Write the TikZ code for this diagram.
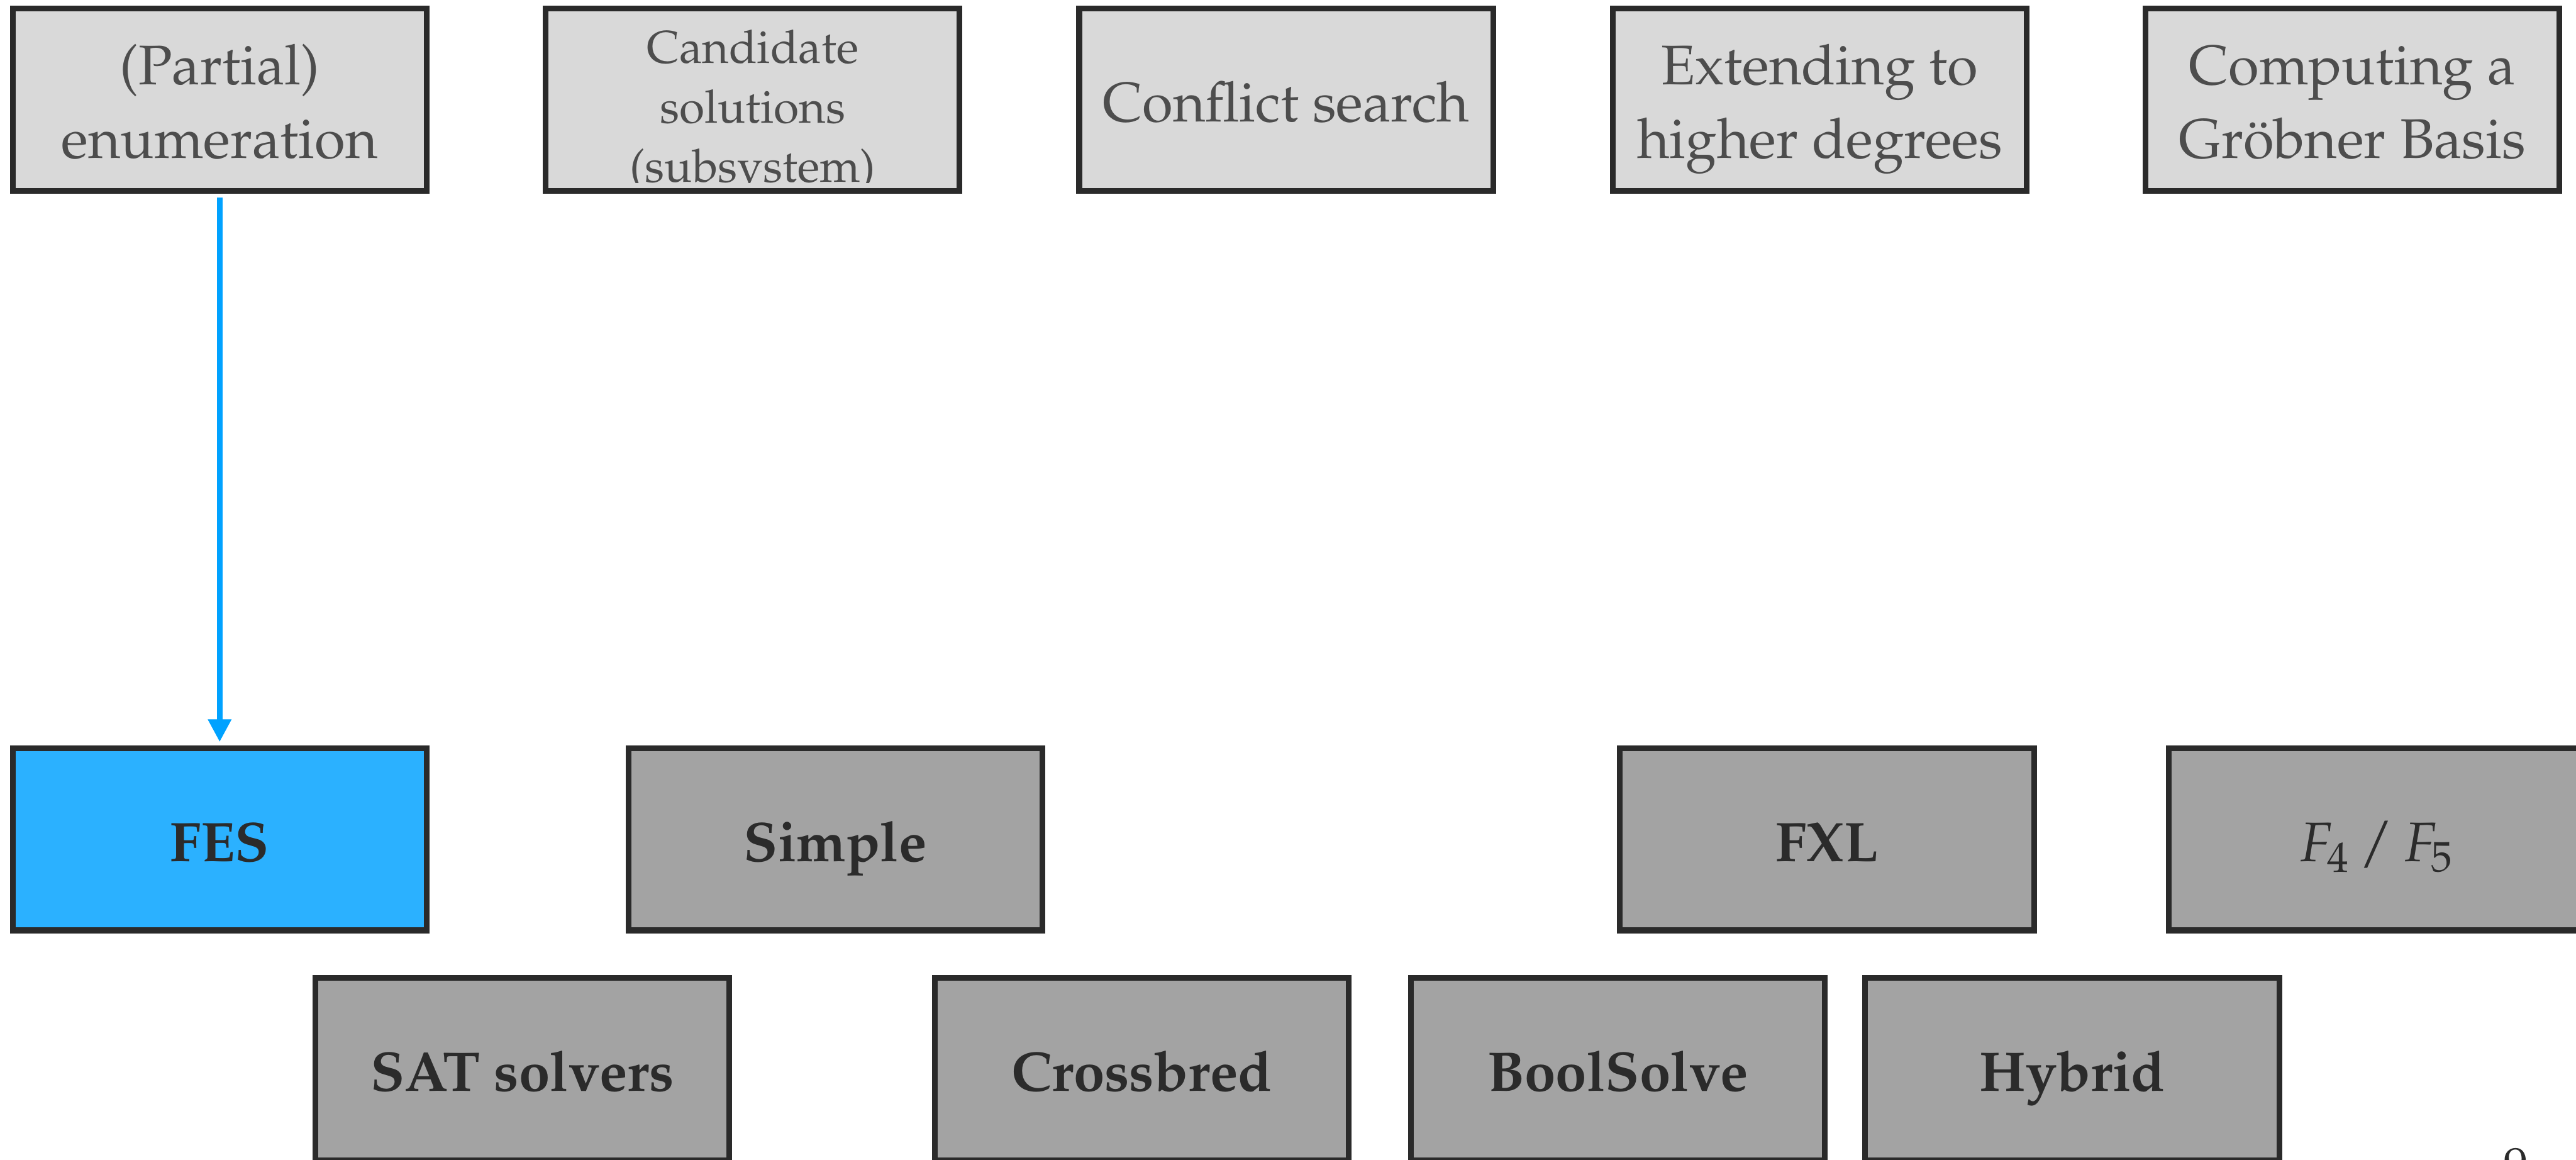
\documentclass[tikz,border=0pt]{standalone}
\usepackage[T1]{fontenc}
\usepackage{mathpazo}
\usetikzlibrary{arrows.meta}

\definecolor{boxEdge}{HTML}{2A2A2A}
\definecolor{paleFill}{HTML}{D9D9D9}
\definecolor{paleText}{HTML}{4D4D4D}
\definecolor{midFill}{HTML}{A3A3A3}
\definecolor{darkText}{HTML}{2B2B2B}
\definecolor{fesBlue}{HTML}{2BB1FF}
\definecolor{arrowBlue}{HTML}{00A2FF}

\tikzset{
  box/.style={draw=boxEdge, line width=0.11cm, minimum width=8.00cm,
              minimum height=3.52cm, inner sep=0pt},
  topbox/.style={box, fill=paleFill},
  algbox/.style={box, fill=midFill},
  fesbox/.style={box, fill=fesBlue},
  boxtext/.style={inner sep=0pt, align=center},
  toptext/.style={boxtext, text=paleText, font=\fontsize{30.7}{40.4}\selectfont},
  smalltext/.style={boxtext, text=paleText, font=\fontsize{25.3}{32.7}\selectfont},
  algtext/.style={boxtext, text=darkText, font=\fontsize{30.7}{40.4}\selectfont\bfseries},
  mathtext/.style={boxtext, text=darkText, font=\fontsize{30.7}{40.4}\selectfont},
}

\begin{document}
\begin{tikzpicture}
  \useasboundingbox (0,0) rectangle (49.78,-22.41);
  \clip (0,0) rectangle (49.78,-22.41);

  % techniques (top row)
  \node[topbox] (b1) at (4.245,-1.925) {};
  \node[topbox] (b2) at (14.545,-1.925) {};
  \node[topbox] (b3) at (24.855,-1.925) {};
  \node[topbox] (b4) at (35.165,-1.925) {};
  \node[topbox] (b5) at (45.455,-1.925) {};

  \node[toptext] (b1t) at ([yshift=-0.135cm]b1.center) {\strut(Partial)\\\strut enumeration};
  \begin{scope}
    \clip (10.60,-0.22) rectangle (18.49,-3.53);
    \node[smalltext] (b2t) at ([yshift=-0.22cm]b2.center) {\strut Candidate\\\strut solutions\\\strut(subsystem)};
  \end{scope}
  \node[toptext] (b3t) at ([yshift=-0.14cm]b3.center) {\strut Conflict search};
  \node[toptext] (b4t) at ([yshift=-0.135cm]b4.center) {\strut Extending to\\\strut higher degrees};
  \node[toptext] (b5t) at ([yshift=-0.135cm]b5.center) {\strut Computing a\\\strut Gr\"obner Basis};

  % algorithms (middle row)
  \node[fesbox] (fes) at (4.245,-16.215) {};
  \node[algbox] (simple) at (16.145,-16.215) {};
  \node[algbox] (fxl) at (35.305,-16.215) {};
  \node[algbox] (f45) at (45.915,-16.215) {};

  \node[algtext] (fest) at ([yshift=-0.145cm]fes.center) {\strut FES};
  \node[algtext] (simplet) at ([yshift=-0.145cm]simple.center) {\strut Simple};
  \node[algtext] (fxlt) at ([yshift=-0.145cm]fxl.center) {\strut FXL};
  \node[mathtext] (f45t) at ([yshift=-0.145cm]f45.center) {\strut$F_4\,/\,F_5$};

  % algorithms (bottom row)
  \node[algbox] (sat) at (10.095,-20.655) {};
  \node[algbox] (crossbred) at (22.065,-20.655) {};
  \node[algbox] (boolsolve) at (31.265,-20.655) {};
  \node[algbox] (hybrid) at (40.045,-20.655) {};

  \node[algtext] (satt) at ([yshift=-0.145cm]sat.center) {\strut SAT solvers};
  \node[algtext] (crossbredt) at ([yshift=-0.145cm]crossbred.center) {\strut Crossbred};
  \node[algtext] (boolsolvet) at ([yshift=-0.145cm]boolsolve.center) {\strut BoolSolve};
  \node[algtext] (hybridt) at ([yshift=-0.145cm]hybrid.center) {\strut Hybrid};

  % enumeration leads to FES
  \draw[arrowBlue, line width=0.11cm,
        -{Triangle[length=0.44cm, width=0.43cm]},
        shorten <=0.08cm, shorten >=0.065cm] (b1.south) -- (fes.north);

  % slide number
  \node[font=\fontsize{26.7}{32}\selectfont, text=darkText, anchor=base, inner sep=0pt]
    (pageno) at (48.62,-22.83) {9};
\end{tikzpicture}
\end{document}
